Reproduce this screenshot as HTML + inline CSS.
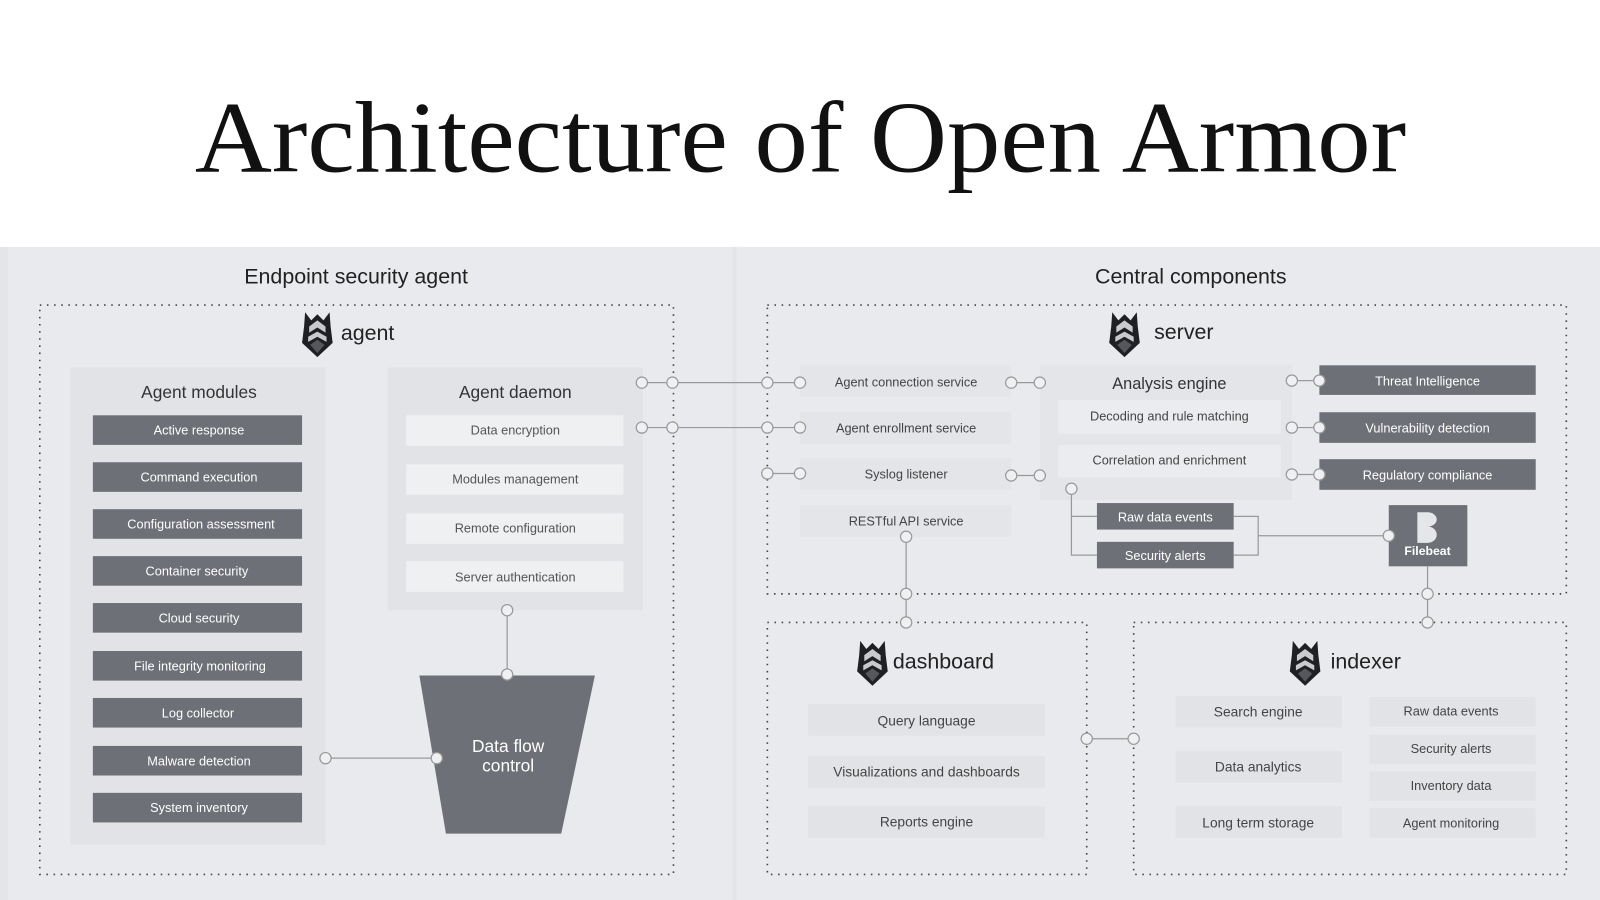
<!DOCTYPE html>
<html><head><meta charset="utf-8"><style>
html,body{margin:0;padding:0;background:#fff;width:1600px;height:900px;overflow:hidden}
svg text{font-family:"Liberation Sans",sans-serif}
</style></head><body>
<svg width="1600" height="900" viewBox="0 0 1568 882" preserveAspectRatio="none" xmlns="http://www.w3.org/2000/svg">
<defs>
<g id="ico">
<path d="M0,-20 L6,-14 L12,-22 L13,-8 L15,8 L0,22 L-15,8 L-13,-8 L-12,-22 L-6,-14 Z" fill="#1f2024"/>
<path d="M-8,-8 L0,-14 L8,-8 L8,-2 L0,-7 L-8,-2 Z M-9,2 L0,-3 L9,2 L9,7 L0,2 L-9,7Z" fill="#c9cacd"/>
<path d="M-7,10 L0,5 L7,10 L0,18Z" fill="#55575c"/>
</g>
</defs>
<text x="191" y="168" textLength="1187" lengthAdjust="spacingAndGlyphs" style="font-family:'Liberation Serif',serif" font-size="100" fill="#111">Architecture of Open Armor</text>
<rect x="0" y="242" width="1568" height="640" fill="#e9eaee"/>
<rect x="718" y="242" width="4" height="640" fill="#e3e4e8"/>
<rect x="0" y="242" width="8" height="640" fill="#e4e5e9"/>
<text x="349" y="278" text-anchor="middle" font-size="21" fill="#222">Endpoint security agent</text>
<text x="1167" y="278" text-anchor="middle" font-size="21" fill="#222">Central components</text>
<g fill="none" stroke="#444" stroke-width="1.6" stroke-dasharray="1.5 5.5">
<rect x="39" y="299" width="621" height="558"/>
<rect x="752" y="299" width="783" height="283"/>
<rect x="752" y="610" width="313" height="247"/>
<rect x="1111" y="610" width="424" height="247"/>
</g>
<use href="#ico" x="311" y="328"/>
<text x="334" y="333" font-size="21" fill="#222">agent</text>
<use href="#ico" x="1102" y="328"/>
<text x="1131" y="332" font-size="21" fill="#222">server</text>
<use href="#ico" x="855" y="650"/>
<text x="875" y="655" font-size="21" fill="#222">dashboard</text>
<use href="#ico" x="1279" y="650"/>
<text x="1304" y="655" font-size="21" fill="#222">indexer</text>
<rect x="69" y="360" width="250" height="468" fill="#e2e3e7"/>
<text x="195" y="390" text-anchor="middle" font-size="17" fill="#333">Agent modules</text>
<g fill="#6d7076">
<rect x="91" y="407" width="205" height="29"/><rect x="91" y="453" width="205" height="29"/><rect x="91" y="499" width="205" height="29"/><rect x="91" y="545" width="205" height="29"/><rect x="91" y="591" width="205" height="29"/><rect x="91" y="638" width="205" height="29"/><rect x="91" y="684" width="205" height="29"/><rect x="91" y="731" width="205" height="29"/><rect x="91" y="777" width="205" height="29"/>
</g>
<g fill="#fff" font-size="12.5" text-anchor="middle">
<text x="195" y="426">Active response</text><text x="195" y="472">Command execution</text><text x="197" y="518">Configuration assessment</text><text x="193" y="564">Container security</text><text x="195" y="610">Cloud security</text><text x="196" y="657">File integrity monitoring</text><text x="194" y="703">Log collector</text><text x="195" y="750">Malware detection</text><text x="195" y="796">System inventory</text>
</g>
<rect x="380" y="360" width="250" height="238" fill="#e2e3e7"/>
<text x="505" y="390" text-anchor="middle" font-size="17" fill="#333">Agent daemon</text>
<g fill="#eef0f2"><rect x="398" y="407" width="213" height="30"/><rect x="398" y="455" width="213" height="30"/><rect x="398" y="503" width="213" height="30"/><rect x="398" y="550" width="213" height="30"/></g>
<g fill="#555" font-size="12.5" text-anchor="middle"><text x="505" y="426">Data encryption</text><text x="505" y="474">Modules management</text><text x="505" y="522">Remote configuration</text><text x="505" y="570">Server authentication</text></g>
<path d="M411,662 L583,662 L550,817 L437,817 Z" fill="#6d7076"/>
<text x="498" y="737" text-anchor="middle" font-size="17" fill="#fff">Data flow</text>
<text x="498" y="756" text-anchor="middle" font-size="17" fill="#fff">control</text>
<g fill="#e4e5e9"><rect x="784" y="358" width="207" height="31"/><rect x="784" y="404" width="207" height="31"/><rect x="784" y="449" width="207" height="31"/><rect x="784" y="495" width="207" height="31"/></g>
<g fill="#444" font-size="12.5" text-anchor="middle"><text x="888" y="379">Agent connection service</text><text x="888" y="424">Agent enrollment service</text><text x="888" y="469">Syslog listener</text><text x="888" y="515">RESTful API service</text></g>
<rect x="1019" y="358" width="247" height="132" fill="#e4e5e9"/>
<text x="1146" y="381" text-anchor="middle" font-size="16" fill="#333">Analysis engine</text>
<g fill="#ebecef"><rect x="1037" y="392" width="218" height="33"/><rect x="1037" y="436" width="218" height="32"/></g>
<g fill="#444" font-size="12.5" text-anchor="middle"><text x="1146" y="412">Decoding and rule matching</text><text x="1146" y="455">Correlation and enrichment</text></g>
<g fill="#6d7076"><rect x="1293" y="358" width="212" height="29"/><rect x="1293" y="404" width="212" height="30"/><rect x="1293" y="450" width="212" height="30"/><rect x="1075" y="493" width="134" height="26"/><rect x="1075" y="531" width="134" height="26"/><rect x="1361" y="495" width="77" height="60"/></g>
<g fill="#fff" font-size="12.5" text-anchor="middle"><text x="1399" y="378">Threat Intelligence</text><text x="1399" y="424">Vulnerability detection</text><text x="1399" y="470">Regulatory compliance</text><text x="1142" y="511">Raw data events</text><text x="1142" y="549">Security alerts</text><text x="1399" y="544" font-size="12" font-weight="bold">Filebeat</text></g>
<path d="M1389,502 h10 a9,7 0 0 1 0,14 a9,8 0 0 1 0,16 h-10Z" fill="#e5e6ea"/>
<g fill="#e2e3e7"><rect x="792" y="690" width="232" height="31"/><rect x="792" y="741" width="232" height="31"/><rect x="792" y="790" width="232" height="31"/>
<rect x="1152" y="682" width="163" height="31"/><rect x="1152" y="736" width="163" height="31"/><rect x="1152" y="790" width="163" height="31"/>
<rect x="1342" y="683" width="163" height="29"/><rect x="1342" y="720" width="163" height="29"/><rect x="1342" y="756" width="163" height="29"/><rect x="1342" y="792" width="163" height="29"/></g>
<g fill="#444" font-size="13.5" text-anchor="middle"><text x="908" y="711">Query language</text><text x="908" y="761">Visualizations and dashboards</text><text x="908" y="810">Reports engine</text>
<text x="1233" y="702">Search engine</text><text x="1233" y="756">Data analytics</text><text x="1233" y="811">Long term storage</text></g>
<g fill="#444" font-size="12.5" text-anchor="middle"><text x="1422" y="701">Raw data events</text><text x="1422" y="738">Security alerts</text><text x="1422" y="774">Inventory data</text><text x="1422" y="811">Agent monitoring</text></g>
<g stroke="#999" stroke-width="1.2" fill="none">
<path d="M629,375 H784 M629,419 H784 M752,464 H784 M991,375 H1019 M991,466 H1019 M1266,373 H1293 M1266,419 H1293 M1266,465 H1293"/>
<path d="M497,598 V661 M319,743 H428 M888,526 V610 M1399,555 V610 M1065,724 H1111"/>
<path d="M1050,479 V544 H1075 M1050,506 H1075 M1209,506 H1233 V544 H1209 M1233,525 H1361"/>
</g>
<g stroke="#999" stroke-width="1.2" fill="#eef0f2">
<circle cx="629" cy="375" r="5.5"/><circle cx="659" cy="375" r="5.5"/><circle cx="752" cy="375" r="5.5"/><circle cx="784" cy="375" r="5.5"/>
<circle cx="629" cy="419" r="5.5"/><circle cx="659" cy="419" r="5.5"/><circle cx="752" cy="419" r="5.5"/><circle cx="784" cy="419" r="5.5"/>
<circle cx="752" cy="464" r="5.5"/><circle cx="784" cy="464" r="5.5"/>
<circle cx="991" cy="375" r="5.5"/><circle cx="1019" cy="375" r="5.5"/><circle cx="991" cy="466" r="5.5"/><circle cx="1019" cy="466" r="5.5"/>
<circle cx="1266" cy="373" r="5.5"/><circle cx="1293" cy="373" r="5.5"/><circle cx="1266" cy="419" r="5.5"/><circle cx="1293" cy="419" r="5.5"/><circle cx="1266" cy="465" r="5.5"/><circle cx="1293" cy="465" r="5.5"/>
<circle cx="1050" cy="479" r="5.5"/><circle cx="1361" cy="525" r="5.5"/>
<circle cx="497" cy="598" r="5.5"/><circle cx="497" cy="661" r="5.5"/><circle cx="319" cy="743" r="5.5"/><circle cx="428" cy="743" r="5.5"/>
<circle cx="888" cy="526" r="5.5"/><circle cx="888" cy="582" r="5.5"/><circle cx="888" cy="610" r="5.5"/>
<circle cx="1399" cy="582" r="5.5"/><circle cx="1399" cy="610" r="5.5"/>
<circle cx="1065" cy="724" r="5.5"/><circle cx="1111" cy="724" r="5.5"/>
</g>
</svg>
</body></html>
